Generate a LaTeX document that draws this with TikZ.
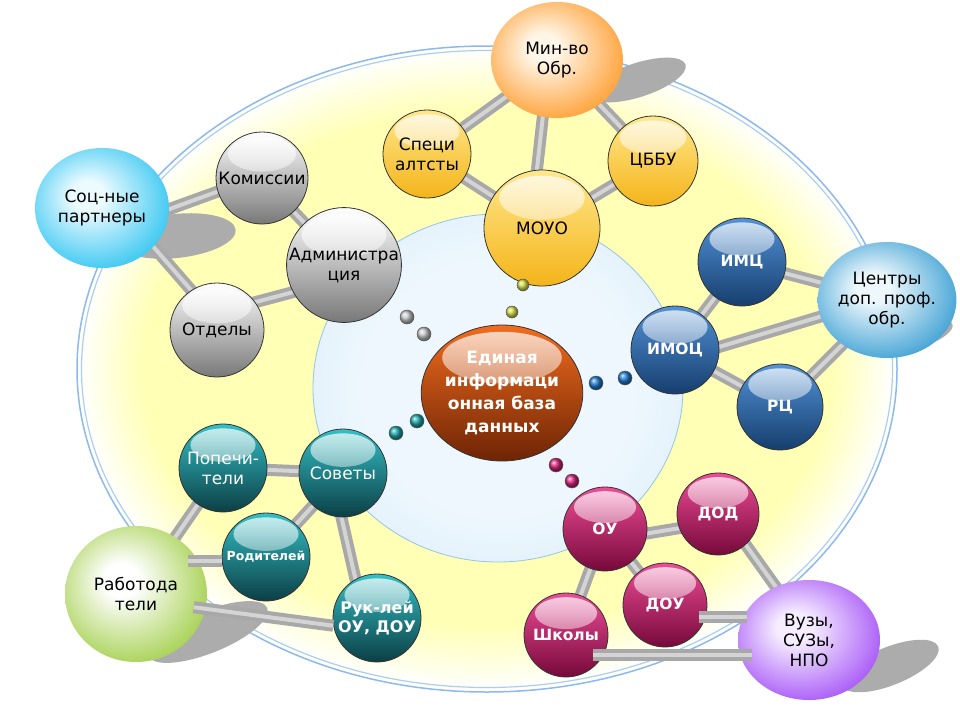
\documentclass[tikz,border=0pt]{standalone}
\usepackage{fontspec}
\setmainfont{DejaVu Sans}
\usetikzlibrary{calc,fadings,shapes.geometric}
\pgfdeclarelayer{back}
\pgfdeclarelayer{bars}
\pgfsetlayers{back,bars,main}

\definecolor{ringyel}{RGB}{255,255,182}
\definecolor{innc}{RGB}{238,247,253}
\definecolor{inne}{RGB}{198,228,248}
\definecolor{innline}{RGB}{150,196,232}
\definecolor{rimA}{RGB}{140,186,236}
\definecolor{rimB}{RGB}{170,205,242}
\definecolor{barout}{RGB}{168,168,168}
\definecolor{barin}{RGB}{212,212,212}
\definecolor{shadowc}{RGB}{172,172,172}
\definecolor{socin}{RGB}{236,251,255}
\definecolor{socout}{RGB}{23,189,239}
\definecolor{minin}{RGB}{255,246,232}
\definecolor{minout}{RGB}{255,145,22}
\definecolor{cenin}{RGB}{238,248,252}
\definecolor{cenout}{RGB}{33,146,205}
\definecolor{rabin}{RGB}{255,255,255}
\definecolor{rabout}{RGB}{150,200,50}
\definecolor{vuzin}{RGB}{246,238,255}
\definecolor{vuzout}{RGB}{154,61,245}
\definecolor{graytop}{RGB}{255,255,255}
\definecolor{graybot}{RGB}{120,120,120}
\definecolor{yeltop}{RGB}{255,232,140}
\definecolor{yelbot}{RGB}{244,180,26}
\definecolor{blutop}{RGB}{82,146,214}
\definecolor{blubot}{RGB}{22,62,110}
\definecolor{cortop}{RGB}{242,108,30}
\definecolor{corbot}{RGB}{110,36,5}
\definecolor{teatop}{RGB}{52,192,198}
\definecolor{teabot}{RGB}{11,63,69}
\definecolor{pnktop}{RGB}{238,76,151}
\definecolor{pnkbot}{RGB}{118,9,58}
\definecolor{beadgray}{RGB}{200,200,200}
\definecolor{beadyel}{RGB}{214,222,69}
\definecolor{beadblu}{RGB}{28,123,209}
\definecolor{beadtea}{RGB}{25,165,168}
\definecolor{beadpnk}{RGB}{216,30,120}

\pgfdeclareradialshading[glowin,glowout]{glow}{\pgfpoint{-6bp}{6bp}}{color(0bp)=(glowin); color(6bp)=(glowin); color(34bp)=(glowout); color(50bp)=(glowout)}
\pgfdeclareradialshading{innershade}{\pgfpoint{0bp}{0bp}}{color(0bp)=(innc); color(18bp)=(innc); color(50bp)=(inne)}
\tikzfading[name=hlfade, top color=transparent!25, bottom color=transparent!100]

\tikzset{
  glowcols/.code 2 args={\colorlet{glowin}{#1}\colorlet{glowout}{#2}},
  partner/.style n args={4}{ellipse, inner sep=0pt, minimum width=#1, minimum height=#2, shading=glow, glowcols={#3}{#4}},
  gloss/.style 2 args={draw=black!80, line width=0.8pt, top color=#1, bottom color=#2,
    path picture={\fill[white, path fading=hlfade] let \p1=(path picture bounding box.north east), \p2=(path picture bounding box.south west) in
      ($(path picture bounding box.north)!0.24!(path picture bounding box.south)$) ellipse [x radius={0.37*(\x1-\x2)}, y radius={0.19*(\y1-\y2)}];}},
  ball/.style={circle, inner sep=0pt, minimum size=#1},
  bead/.style 2 args={circle, inner sep=0pt, minimum size=#1, ball color=#2, draw=black!65, line width=0.5pt},
  bar/.style={draw=barout, line width=4pt, double=barin, double distance=4pt},
  ext/.style={shorten <=-10pt, shorten >=-10pt},
  lab/.style={align=center, text=black, font=\fontsize{17}{20}\selectfont},
  wlab/.style={align=center, text=white, font=\fontsize{17}{20}\selectfont},
  wbold/.style={align=center, text=white, font=\fontsize{15.5}{19}\selectfont\bfseries},
  shadowfill/.style={fill=shadowc}
}

\begin{document}
\begin{tikzpicture}[x=1pt,y=-1pt]
\useasboundingbox (0,0) rectangle (960,720);

\begin{pgfonlayer}{back}
  \fill[white] (0,0) rectangle (960,720);
  \foreach \k in {0,...,14} {
    \pgfmathsetmacro{\pct}{min(100,\k*8)}
    \fill[ringyel!\pct!white] (487,369) ellipse [x radius={410-5*\k}, y radius={323-5*\k}];
  }
  \draw[rimA, line width=1.5pt] (487,369) ellipse [x radius=410pt, y radius=323pt];
  \draw[rimB, line width=1.2pt] (487,369) ellipse [x radius=405.5pt, y radius=318.5pt];
  \shadedraw[shading=innershade, draw=innline, line width=0.8pt] (498,388) ellipse [x radius=185pt, y radius=174pt];
  % shadows
  \fill[shadowfill, rotate around={6:(176,236)}] (176,236) ellipse [x radius=60pt, y radius=22pt];
  \fill[shadowfill, rotate around={18:(638,80)}] (638,80) ellipse [x radius=50pt, y radius=17pt];
  \fill[shadowfill, rotate around={18:(922,334)}] (922,334) ellipse [x radius=32pt, y radius=12pt];
  \fill[shadowfill, rotate around={22:(208,632)}] (208,632) ellipse [x radius=64pt, y radius=21pt];
  \fill[shadowfill, rotate around={22:(890,666)}] (890,666) ellipse [x radius=52pt, y radius=19pt];
\end{pgfonlayer}

% partner spheres
\node[partner={134}{120}{socin}{socout}, lab] (soc) at (102,208) {Соц-ные\\партнеры};
\node[partner={132}{116}{minin}{minout}, lab] (min) at (557,60) {Мин-во\\Обр.};
\node[partner={126}{116}{cenin}{cenout}, lab] (cen) at (887,300) {Центры\\доп. проф.\\обр.};
\node[partner={142}{136}{rabin}{rabout}, lab] (rab) at (136,594) {Работода\\тели};
\node[partner={142}{120}{vuzin}{vuzout}, lab] (vuz) at (809,640) {Вузы,\\СУЗы,\\НПО};

% gray spheres
\node[ball=92, gloss={graytop}{graybot}, lab] (kom) at (262,178) {Комиссии};
\node[ball=114, gloss={graytop}{graybot}, lab] (adm) at (344,265) {Администра\\ция};
\node[ball=94, gloss={graytop}{graybot}, lab] (otd) at (217,330) {Отделы};

% yellow spheres
\node[ball=88, gloss={yeltop}{yelbot}, lab] (spe) at (427,154) {Специ\\алтсты};
\node[ball=90, gloss={yeltop}{yelbot}, lab] (cbb) at (653,161) {ЦББУ};
\node[ball=116, gloss={yeltop}{yelbot}, lab] (moy) at (542,228) {МОУО};

% blue spheres
\node[ball=88, gloss={blutop}{blubot}, wbold] (imc) at (742,262) {ИМЦ};
\node[ball=88, gloss={blutop}{blubot}, wbold] (imo) at (675,350) {ИМОЦ};
\node[ball=86, gloss={blutop}{blubot}, wbold] (rc) at (780,407) {РЦ};

% central sphere
\node[ellipse, inner sep=0pt, minimum width=150, minimum height=136, gloss={cortop}{corbot}, align=center, text=white, font=\fontsize{17}{23}\selectfont\bfseries] (ebd) at (502,393) {Единая\\информаци\\онная база\\данных};

% teal spheres
\node[ball=88, gloss={teatop}{teabot}, wlab] (pop) at (223,468) {Попечи-\\тели};
\node[ball=88, gloss={teatop}{teabot}, wlab] (sov) at (343,473) {Советы};
\node[ball=88, gloss={teatop}{teabot}, align=center, text=white, font=\fontsize{12.5}{15}\selectfont\bfseries] (rod) at (266,557) {Родителей};
\node[ball=88, gloss={teatop}{teabot}, align=center, text=white, font=\fontsize{16}{19}\selectfont\bfseries] (ruk) at (377,618) {Рук-лей\\ОУ, ДОУ};

% pink spheres
\node[ball=84, gloss={pnktop}{pnkbot}, wbold] (ou) at (605,529) {ОУ};
\node[ball=82, gloss={pnktop}{pnkbot}, wbold] (dod) at (718,514) {ДОД};
\node[ball=84, gloss={pnktop}{pnkbot}, wbold] (dou) at (665,605) {ДОУ};
\node[ball=84, gloss={pnktop}{pnkbot}, wbold] (shk) at (566,635) {Школы};

% beads
\node[bead={14}{beadgray}] (g1) at (407,317) {};
\node[bead={14}{beadgray}] (g2) at (424,334) {};
\node[bead={12}{beadyel}] (y1) at (523,285) {};
\node[bead={12}{beadyel}] (y2) at (512,312) {};
\node[bead={14}{beadblu}] (b1) at (596,383) {};
\node[bead={14}{beadblu}] (b2) at (625,378) {};
\node[bead={14}{beadtea}] (t1) at (396,433) {};
\node[bead={14}{beadtea}] (t2) at (417,421) {};
\node[bead={14}{beadpnk}] (p1) at (556,465) {};
\node[bead={14}{beadpnk}] (p2) at (572,481) {};

% bars below the spheres
\begin{pgfonlayer}{bars}
  \draw[bar] (min.center) -- (spe.center);
  \draw[bar, ext] (min.-104) -- (moy.95);
  \draw[bar] (min.center) -- (cbb.center);
  \draw[bar] (spe.center) -- (moy.center);
  \draw[bar] (moy.center) -- (cbb.center);
  \draw[bar, ext] (soc.-1) -- (kom.197);
  \draw[bar, ext] (soc.-37) -- (otd.123);
  \draw[bar] (kom.center) -- (adm.center);
  \draw[bar, ext] (otd.36) -- (adm.208);
  \draw[bar] (imc.center) -- (cen.center);
  \draw[bar] (imc.center) -- (imo.center);
  \draw[bar, ext] (imo.4) -- (cen.194);
  \draw[bar] (imo.center) -- (rc.center);
  \draw[bar] (rc.center) -- (cen.center);
  \draw[bar] (pop.center) -- (sov.center);
  \draw[bar] (pop.center) -- (rab.center);
  \draw[bar] (sov.center) -- (rod.center);
  \draw[bar, ext] (sov.-92) -- (ruk.119);
  \draw[bar, ext] (ou.-6) -- (dod.200);
  \draw[bar] (ou.center) -- (dou.center);
  \draw[bar] (ou.center) -- (shk.center);
  \draw[bar, ext] (dod.-48) -- (vuz.122);
\end{pgfonlayer}

% bars lying over the spheres
\draw[bar, shorten <=-12pt] (rab.-12) -- (ruk.190);
\draw[bar, shorten >=-19pt] (rod.185) -- (rod.185 -| rab.east);
\draw[bar, shorten <=-7pt, shorten >=-9pt] (dou.-17) -- (dou.-17 -| vuz.west);
\draw[bar, shorten <=-10pt, shorten >=-14pt] (shk.-28) -- (shk.-28 -| vuz.west);
\end{tikzpicture}
\end{document}
